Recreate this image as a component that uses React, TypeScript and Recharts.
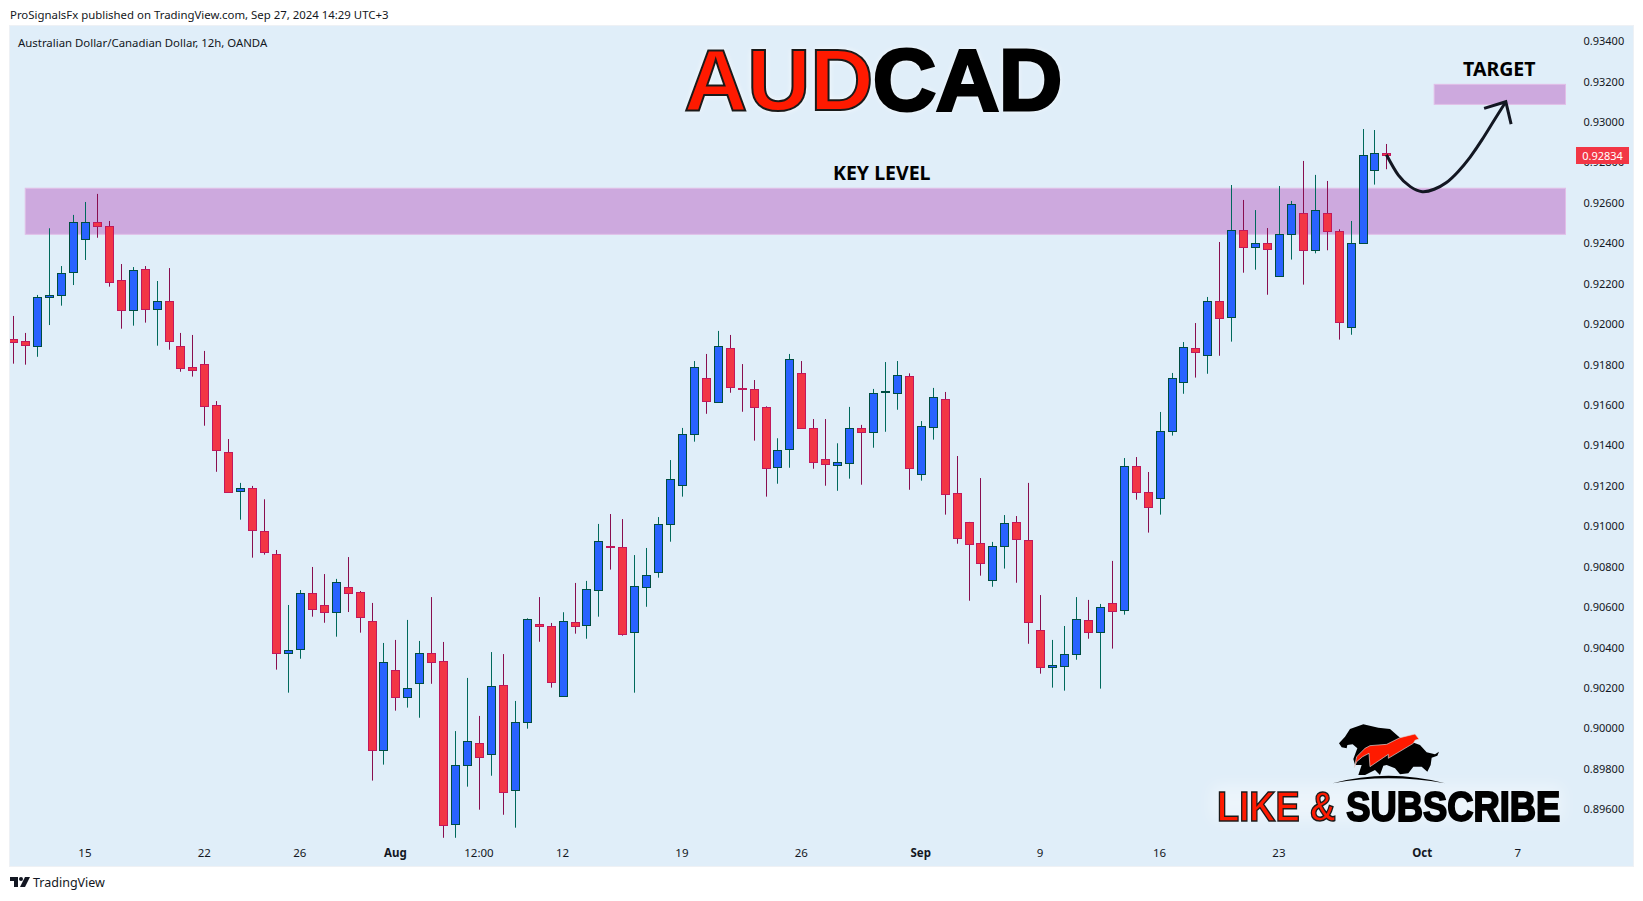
import { Bar, ComposedChart, Line, ReferenceArea, XAxis, YAxis } from 'recharts';

const opens = [
  0.91921, 0.91911, 0.91886, 0.92128, 0.92138, 0.92252, 0.92415, 0.92499, 0.9248, 0.92213,
  0.92064, 0.92267, 0.92069, 0.92109, 0.91886, 0.91782, 0.91797, 0.91594, 0.91361, 0.91168,
  0.91183, 0.90971, 0.90857, 0.90367, 0.90387, 0.90664, 0.90604, 0.9057, 0.90693, 0.90669,
  0.90525, 0.89887, 0.90283, 0.90149, 0.90218, 0.90367, 0.90327, 0.89521, 0.89813, 0.89922,
  0.89867, 0.90209, 0.89689, 0.90025, 0.9051, 0.905, 0.90154, 0.9052, 0.90505, 0.90679,
  0.90896, 0.90891, 0.90471, 0.90693, 0.90768, 0.91005, 0.91198, 0.91451, 0.91728, 0.91609,
  0.91876, 0.91678, 0.91673, 0.91584, 0.91287, 0.91376, 0.91752, 0.9148, 0.91327, 0.91297,
  0.91307, 0.9148, 0.9146, 0.91662, 0.91653, 0.91738, 0.91253, 0.91485, 0.91624, 0.91159,
  0.91015, 0.90911, 0.90728, 0.90896, 0.91015, 0.90926, 0.90481, 0.90298, 0.90303, 0.90362,
  0.9053, 0.90471, 0.90614, 0.9058, 0.91292, 0.91164, 0.91134, 0.91465, 0.91708, 0.91876,
  0.91841, 0.92109, 0.92029, 0.9246, 0.92376, 0.92396, 0.92232, 0.9244, 0.92544, 0.92361,
  0.92544, 0.92455, 0.9198, 0.92396, 0.92757, 0.92841,
];

const closes = [
  0.91909, 0.91891, 0.92128, 0.92138, 0.9225, 0.92499, 0.92499, 0.92483, 0.92206, 0.92064,
  0.92262, 0.92069, 0.92109, 0.91911, 0.91777, 0.91767, 0.91589, 0.91371, 0.91164, 0.91183,
  0.90975, 0.90867, 0.90367, 0.90382, 0.90664, 0.90585, 0.9057, 0.90718, 0.90667, 0.90545,
  0.89887, 0.90322, 0.90149, 0.90194, 0.90367, 0.90322, 0.89516, 0.89813, 0.89931, 0.89852,
  0.90204, 0.89679, 0.90025, 0.90535, 0.905, 0.90223, 0.90525, 0.905, 0.90684, 0.90921,
  0.90894, 0.90461, 0.90698, 0.90753, 0.91005, 0.91228, 0.91451, 0.91782, 0.91614, 0.91886,
  0.91683, 0.91676, 0.91584, 0.91282, 0.91371, 0.91822, 0.9148, 0.91312, 0.91302, 0.91312,
  0.9148, 0.9146, 0.91653, 0.91664, 0.91742, 0.91282, 0.9149, 0.91634, 0.91154, 0.90936,
  0.90906, 0.90812, 0.90896, 0.9101, 0.90931, 0.9052, 0.90298, 0.90308, 0.90362, 0.90535,
  0.90471, 0.90595, 0.90575, 0.91292, 0.91164, 0.91089, 0.91465, 0.91728, 0.91881, 0.91856,
  0.92109, 0.92024, 0.9246, 0.92376, 0.92396, 0.92366, 0.9244, 0.92589, 0.92361, 0.92559,
  0.92455, 0.92005, 0.92396, 0.92831, 0.92841, 0.92834,
];

const highs = [
  0.92036, 0.91952, 0.9214, 0.9247, 0.92283, 0.92536, 0.926, 0.9264, 0.92506, 0.92293,
  0.92278, 0.92283, 0.92209, 0.92273, 0.91952, 0.91942, 0.91863, 0.91615, 0.91427, 0.9121,
  0.91195, 0.91129, 0.90878, 0.90606, 0.9068, 0.90794, 0.90759, 0.90735, 0.90843, 0.90675,
  0.90616, 0.90418, 0.90433, 0.90532, 0.90428, 0.90645, 0.90423, 0.89982, 0.90245, 0.90057,
  0.90373, 0.90363, 0.90131, 0.9054, 0.90645, 0.90517, 0.9057, 0.90715, 0.90725, 0.91007,
  0.91056, 0.91031, 0.90853, 0.90888, 0.91041, 0.91323, 0.91482, 0.91813, 0.91848, 0.91962,
  0.91942, 0.91798, 0.91719, 0.91589, 0.91431, 0.91848, 0.91813, 0.91526, 0.91526, 0.91406,
  0.91586, 0.91497, 0.91675, 0.91808, 0.91813, 0.91752, 0.91516, 0.9168, 0.9166, 0.91343,
  0.91017, 0.91234, 0.90918, 0.91051, 0.91046, 0.9121, 0.90655, 0.90433, 0.90502, 0.90645,
  0.90631, 0.90611, 0.90824, 0.91333, 0.91338, 0.91264, 0.91561, 0.91754, 0.91907, 0.92001,
  0.9213, 0.92402, 0.92684, 0.9261, 0.9256, 0.92471, 0.92679, 0.92605, 0.92803, 0.92734,
  0.92704, 0.92465, 0.92506, 0.92961, 0.92956, 0.92887,
];

const lows = [
  0.918, 0.91795, 0.91834, 0.91991, 0.92087, 0.92189, 0.92313, 0.92423, 0.92181, 0.91973,
  0.91988, 0.92003, 0.91889, 0.91869, 0.9176, 0.91736, 0.91493, 0.91265, 0.9116, 0.91028,
  0.9084, 0.90855, 0.90286, 0.90172, 0.9034, 0.90548, 0.90518, 0.90449, 0.90571, 0.90469,
  0.89737, 0.89816, 0.90083, 0.90098, 0.90048, 0.90216, 0.89454, 0.89454, 0.89707, 0.89593,
  0.89761, 0.89568, 0.89504, 0.89994, 0.90424, 0.90197, 0.90153, 0.90464, 0.90439, 0.90548,
  0.90781, 0.90454, 0.90172, 0.90597, 0.90741, 0.90919, 0.91142, 0.91414, 0.91552, 0.91608,
  0.91656, 0.91562, 0.91419, 0.91142, 0.91206, 0.91285, 0.91479, 0.9128, 0.91196, 0.91171,
  0.91231, 0.91201, 0.91384, 0.91463, 0.91572, 0.91176, 0.91221, 0.91424, 0.91053, 0.90909,
  0.90627, 0.90751, 0.90696, 0.90786, 0.90716, 0.90414, 0.90266, 0.90197, 0.90182, 0.90335,
  0.90439, 0.90192, 0.9039, 0.90558, 0.91127, 0.90964, 0.91053, 0.91444, 0.91651, 0.91731,
  0.9175, 0.91839, 0.91909, 0.9225, 0.92265, 0.92141, 0.92231, 0.92315, 0.92191, 0.92346,
  0.92361, 0.91919, 0.91943, 0.92395, 0.92686, 0.92762,
];

// projected path drawn on the chart, starts on the last candle
const arrowStart = 115;
const arrowPrices = [
  0.92834, 0.92733, 0.92676, 0.92651, 0.92663, 0.92695, 0.9275, 0.92821, 0.92907, 0.93002, 0.93096,
];

const priceTicks = [
  0.896, 0.898, 0.9, 0.902, 0.904, 0.906, 0.908, 0.91, 0.912, 0.914, 0.916, 0.918, 0.92, 0.922,
  0.924, 0.926, 0.928, 0.93, 0.932, 0.934,
];

const dateTicks = [6, 16, 24, 32, 39, 46, 56, 66, 76, 86, 96, 106, 118, 126];
const dateLabels = ['15', '22', '26', 'Aug', '12:00', '12', '19', '26', 'Sep', '9', '16', '23', 'Oct', '7'];
const boldLabels = ['Aug', 'Sep', 'Oct'];

const keyLevel = [0.9244, 0.92668];
const targetZone = [0.93083, 0.93182];
const lastPrice = 0.92834;

const SLOTS = 131;
const BAND = 11.94;
const PLOT_TOP = 26.15;
const PLOT_HEIGHT = 812.45;
const PRICE_MIN = 0.8945;
const PRICE_MAX = 0.9347;

const rows = Array.from({ length: SLOTS }, (_, i) => ({
  idx: i,
  open: opens[i] ?? null,
  close: closes[i] ?? null,
  high: highs[i] ?? null,
  low: lows[i] ?? null,
  range: i < opens.length ? [lows[i], highs[i]] : null,
  arrow: arrowPrices[i - arrowStart] ?? null,
}));

const UI_FONT = '"Noto Sans", sans-serif';

function Candle(props: any) {
  const { x, y, width, height, payload } = props;
  if (!payload || payload.high == null) return null;
  const up = payload.close >= payload.open;
  const perUnit = height / (payload.high - payload.low);
  const yOf = (v: number) => y + (payload.high - v) * perUnit;
  const cx = Math.round(x + width / 2);
  const top = Math.round(yOf(Math.max(payload.open, payload.close)));
  const bottom = Math.round(yOf(Math.min(payload.open, payload.close)));
  const wick = up ? '#00695c' : '#880e4f';
  return (
    <g>
      <line x1={cx + 0.5} x2={cx + 0.5} y1={y} y2={y + height} stroke={wick} strokeWidth={1} />
      <rect
        x={cx - 3.5}
        y={top + 0.5}
        width={8}
        height={Math.max(bottom - top, 0)}
        fill={up ? '#2962ff' : '#f23645'}
        stroke={up ? '#004d40' : '#c2185b'}
        strokeWidth={1}
      />
    </g>
  );
}

// zones start and end on candle centres, the scale hands over whole bands
function Zone(props: any) {
  const { x, y, width, height } = props;
  return (
    <rect
      x={x + BAND / 2}
      y={y}
      width={width - BAND}
      height={height}
      fill="#cda9de"
      stroke="#e1bee7"
      strokeWidth={1}
    />
  );
}

function DateTick(props: any) {
  const { x, y, payload } = props;
  const label = dateLabels[dateTicks.indexOf(payload.value)];
  return (
    <text
      x={x}
      y={y + 7}
      textAnchor="middle"
      dominantBaseline="middle"
      fontFamily={UI_FONT}
      fontSize={11.5}
      fontWeight={boldLabels.includes(label) ? 700 : 400}
      fill="#131722"
    >
      {label}
    </text>
  );
}

function ArrowHead(props: any) {
  const { cx, cy, index } = props;
  if (index !== arrowStart + arrowPrices.length - 1) return <g key={index} />;
  return (
    <path
      key={index}
      d={`M${cx - 21.7} ${cy + 6.6} L${cx} ${cy} L${cx + 5.3} ${cy + 22.3}`}
      fill="none"
      stroke="#131722"
      strokeWidth={3}
    />
  );
}

function Overlay({ left, top, style, children }: any) {
  return (
    <div style={{ position: 'absolute', left, top, whiteSpace: 'nowrap', lineHeight: 1, ...style }}>{children}</div>
  );
}

export default function App() {
  const lastY = PLOT_TOP + ((PRICE_MAX - lastPrice) / (PRICE_MAX - PRICE_MIN)) * PLOT_HEIGHT;
  return (
    <div style={{ position: 'absolute', left: 0, top: 0, width: 1643, height: 901, background: '#ffffff', overflow: 'hidden' }}>
      {/* chart panel */}
      <div style={{ position: 'absolute', left: 10, top: 26, width: 1623, height: 840, background: '#e0eef9', boxShadow: '0 0 0 1px #eef1f5' }} />

      <div style={{ position: 'absolute', left: 0, top: 0, clipPath: 'inset(0 0 0 10px)' }}>
        <ComposedChart
          width={1643}
          height={901}
          data={rows}
          margin={{ top: PLOT_TOP, right: 9.53, bottom: 34.4, left: 7.33 }}
        >
          <XAxis
            dataKey="idx"
            type="category"
            ticks={dateTicks}
            interval={0}
            height={28}
            axisLine={false}
            tickLine={false}
            tick={<DateTick />}
          />
          <YAxis
            orientation="right"
            width={62}
            domain={[PRICE_MIN, PRICE_MAX]}
            ticks={priceTicks}
            axisLine={false}
            tickLine={false}
            tickSize={0}
            tickMargin={12}
            tickFormatter={(v: number) => v.toFixed(5)}
            tick={{ fill: '#131722', fontSize: 11, fontFamily: UI_FONT, textAnchor: 'start', dy: 1 }}
          />
          <ReferenceArea x1={1} x2={130} y1={keyLevel[0]} y2={keyLevel[1]} shape={<Zone />} ifOverflow="visible" />
          <ReferenceArea x1={119} x2={130} y1={targetZone[0]} y2={targetZone[1]} shape={<Zone />} ifOverflow="visible" />
          <Bar dataKey="range" barSize={8} shape={<Candle />} isAnimationActive={false} />
          <Line
            dataKey="arrow"
            type="natural"
            connectNulls
            stroke="#131722"
            strokeWidth={3}
            dot={ArrowHead}
            activeDot={false}
            isAnimationActive={false}
          />
        </ComposedChart>
      </div>

      {/* last price tag */}
      <div
        style={{
          position: 'absolute',
          left: 1576,
          top: lastY - 7.7,
          width: 53,
          height: 17,
          background: '#f23645',
          color: '#ffffff',
          fontFamily: UI_FONT,
          fontSize: 11,
          lineHeight: '17px',
          textAlign: 'center',
        }}
      >
        {lastPrice.toFixed(5)}
      </div>

      <Overlay left={10} top={9} style={{ fontFamily: UI_FONT, fontSize: 11.4, color: '#131722' }}>
        ProSignalsFx published on TradingView.com, Sep 27, 2024 14:29 UTC+3
      </Overlay>
      <Overlay left={18} top={37} style={{ fontFamily: UI_FONT, fontSize: 11.4, color: '#131722' }}>
        Australian Dollar/Canadian Dollar, 12h, OANDA
      </Overlay>

      {/* headline */}
      <Overlay
        left={684}
        top={36}
        style={{
          fontFamily: '"Liberation Sans", sans-serif',
          fontWeight: 700,
          fontSize: 88,
          letterSpacing: -0.6,
          textShadow: '0 0 6px #ffffff',
        }}
      >
        <span style={{ color: '#ff1a00', WebkitTextStroke: '2px #1a1a1a' }}>AUD</span>
        <span style={{ color: '#000000', WebkitTextStroke: '3px #000000' }}>CAD</span>
      </Overlay>

      <Overlay left={833} top={163} style={{ fontFamily: UI_FONT, fontWeight: 700, fontSize: 19.5, color: '#000000' }}>
        KEY LEVEL
      </Overlay>
      <Overlay left={1463} top={59} style={{ fontFamily: UI_FONT, fontWeight: 700, fontSize: 19.5, color: '#000000' }}>
        TARGET
      </Overlay>

      {/* like & subscribe sticker */}
      <div style={{ position: 'absolute', left: 1212, top: 786, width: 350, height: 34, background: 'rgba(255,255,255,0.4)', filter: 'blur(8px)' }} />
      <svg style={{ position: 'absolute', left: 1320, top: 715 }} width={140} height={75} viewBox="0 0 420 225">
        <path
          d="M57 85 L75 65 L90 42 L130 28 L175 38 L210 42 L240 68 L300 90 L320 112 L345 118 L357 110 L352 122 L335 128 L332 150 L322 170 L305 155 L280 155 L265 175 L240 178 L225 160 L200 150 L190 152 L180 180 L165 165 L135 180 L115 180 L125 150 L105 150 L100 132 L112 100 L98 88 L82 90 L80 100 L65 97 Z"
          fill="#000000"
        />
        <path
          d="M103 158 L110 125 L135 100 L150 92 L200 88 L240 68 L285 57 L297 72 L285 76 L280 85 L205 130 L205 118 L190 128 L150 155 L147 115 L128 125 L110 140 Z"
          fill="#ff1a00"
          stroke="#dddddd"
          strokeWidth={2}
        />
        <path d="M38 205 Q205 160 375 205 Q205 175 38 205 Z" fill="#000000" />
      </svg>
      <Overlay
        left={1217}
        top={785}
        style={{
          fontFamily: '"Liberation Sans", sans-serif',
          fontWeight: 700,
          fontSize: 43,
          transform: 'scaleX(0.845)',
          transformOrigin: 'left center',
        }}
      >
        <span style={{ color: '#ff1a00', WebkitTextStroke: '1.5px #1a1a1a' }}>LIKE &amp; </span>
        <span style={{ color: '#000000', WebkitTextStroke: '2px #000000' }}>SUBSCRIBE</span>
      </Overlay>

      {/* footer */}
      <svg style={{ position: 'absolute', left: 10, top: 877 }} width={20} height={11} viewBox="0 0 20 11">
        <path d="M0 0 H8 V10 H4 V4 H0 Z" fill="#131722" />
        <circle cx="11" cy="2" r="2" fill="#131722" />
        <path d="M15 0 H20 L15 10 H10 Z" fill="#131722" />
      </svg>
      <Overlay left={33} top={877} style={{ fontFamily: UI_FONT, fontSize: 12.5, color: '#131722' }}>
        TradingView
      </Overlay>
    </div>
  );
}
